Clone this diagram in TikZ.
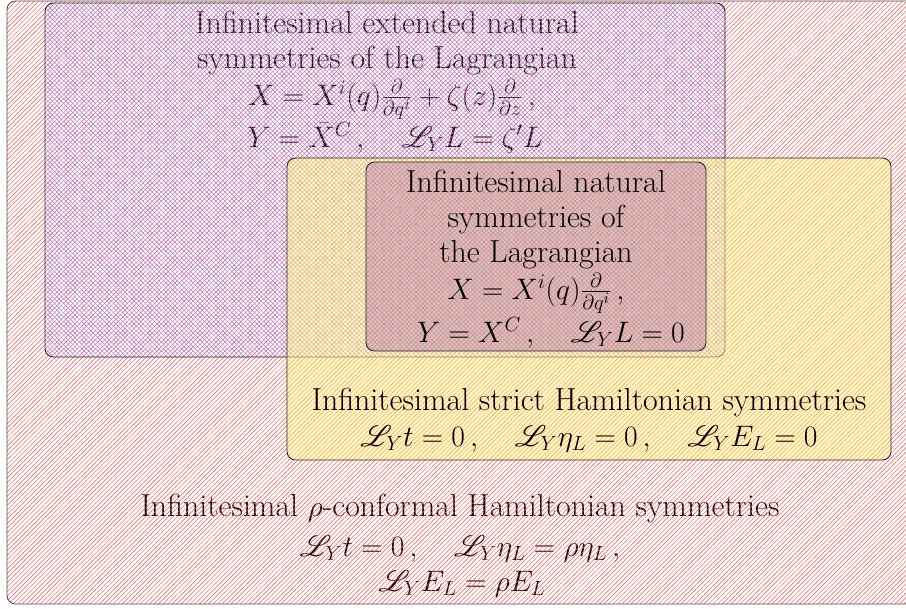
\documentclass[tikz,border=0pt]{standalone}
\usepackage{amsmath}
\usepackage{mathrsfs}
\usetikzlibrary{patterns.meta}
\begin{document}
\begin{tikzpicture}[x=0.7pt,y=-0.7pt,
  txt/.style={inner sep=0pt, anchor=base, font=\fontsize{22.3}{27}\selectfont},
  frame/.style={draw=black!85, line width=0.6pt, rounded corners=6pt},
  nehatch/.style={pattern={Lines[angle=45, distance=2.25pt, line width=0.32pt]}, pattern color=red!70},
  nwhatch/.style={pattern={Lines[angle=-45, distance=2.25pt, line width=0.32pt]}, pattern color=blue!50},
]
\useasboundingbox (0,0) rectangle (906,608);
% corners
\coordinate (o1) at (7,1);   \coordinate (o2) at (930,604);
\coordinate (b1) at (45,3);  \coordinate (b2) at (725,357);
\coordinate (y1) at (287,158); \coordinate (y2) at (891,460);
\coordinate (i1) at (366,162); \coordinate (i2) at (706,351);
% texts (under the hatching)
\node[txt] (bl1) at (387,33) {Infinitesimal extended natural};
\node[txt] (bl2) at (387,68) {symmetries of the Lagrangian};
\node[txt] (bl3) at (392,105) {$X = X^i(q)\frac{\partial}{\partial q^i} + \zeta(z)\frac{\partial}{\partial z}\,,$};
\node[txt] (bl4) at (395,147) {$Y = \bar{X}^C\,,\quad \mathscr{L}_Y L = \zeta' L$};
\node[txt] (ol1) at (460,516) {Infinitesimal $\rho$-conformal Hamiltonian symmetries};
\node[txt] (ol2) at (460,556) {$\mathscr{L}_Y t = 0\,,\quad \mathscr{L}_Y \eta_L = \rho\eta_L\,,$};
\node[txt] (ol3) at (462,591) {$\mathscr{L}_Y E_L = \rho E_L$};
% outer region
\path[nehatch, rounded corners=6pt] (o1) rectangle (o2);
\draw[frame, draw=black!70] (o1) rectangle (o2);
% extended natural region
\path[nwhatch, rounded corners=6pt] (b1) rectangle (b2);
\draw[frame] (b1) rectangle (b2);
% strict Hamiltonian region
\fill[fill={rgb,255:red,255;green,238;blue,130}, fill opacity=0.5, rounded corners=6pt] (y1) rectangle (y2);
\draw[frame] (y1) rectangle (y2);
\node[txt] (yl1) at (589,410) {Infinitesimal strict Hamiltonian symmetries};
\node[txt] (yl2) at (589,446) {$\mathscr{L}_Y t = 0\,,\quad \mathscr{L}_Y \eta_L = 0\,,\quad \mathscr{L}_Y E_L = 0$};
% natural region
\fill[fill={rgb,255:red,155;green,75;blue,165}, fill opacity=0.32, rounded corners=6pt] (i1) rectangle (i2);
\draw[frame] (i1) rectangle (i2);
\node[txt] (il1) at (536,192) {Infinitesimal natural};
\node[txt] (il2) at (536,227) {symmetries of};
\node[txt] (il3) at (536,262) {the Lagrangian};
\node[txt] (il4) at (536,299) {$X = X^i(q)\frac{\partial}{\partial q^i}\,,$};
\node[txt] (il5) at (551,342) {$Y = X^C\,,\quad \mathscr{L}_Y L = 0$};
\end{tikzpicture}
\end{document}
